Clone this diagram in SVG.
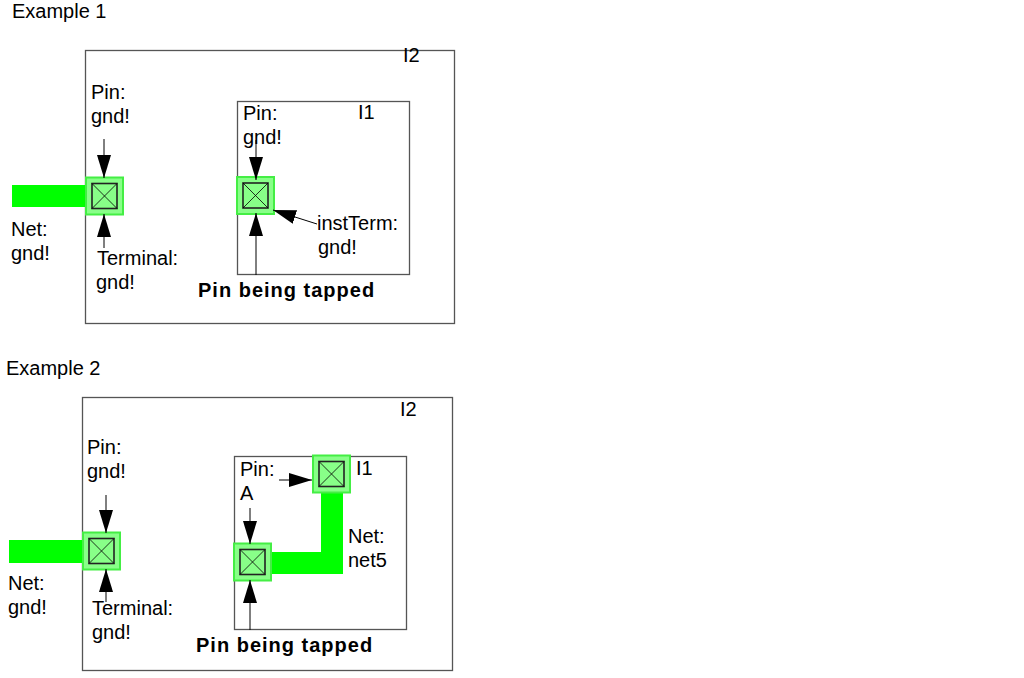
<svg xmlns="http://www.w3.org/2000/svg" width="1024" height="678" viewBox="0 0 1024 678">
<defs>
<style>
.t{font-family:"Liberation Sans",Arial,sans-serif;font-size:20px;fill:#000}
.b{font-family:"Liberation Sans",Arial,sans-serif;font-size:20px;font-weight:bold;letter-spacing:1px;fill:#000}
.box{fill:none;stroke:#555;stroke-width:1.3}
.net{fill:#00ff00}
.po{fill:#88ff88;stroke:#44ee44;stroke-width:2}
.pi{fill:#88ff88;stroke:#222;stroke-width:1.6}
.x{stroke:#000;stroke-width:0.8}
.c{stroke:#000;stroke-width:1;fill:none;marker-end:url(#ah)}
</style>
<marker id="ah" markerUnits="userSpaceOnUse" markerWidth="24" markerHeight="14" refX="23" refY="7" orient="auto">
<path d="M0,0 L23,7 L0,14 z" fill="#000"/>
</marker>
<g id="pin">
<rect class="po" x="0" y="0" width="37" height="37"/>
<rect class="pi" x="6" y="6" width="25" height="25"/>
<path class="x" d="M6,6 L31,31 M31,6 L6,31"/>
</g>
</defs>
<rect width="1024" height="678" fill="#fff"/>

<g id="example1">
<text class="t" x="12" y="18">Example 1</text>
<g id="I2a">
<rect class="box" x="85.5" y="50.5" width="369" height="273"/>
<text class="t" x="403" y="62">I2</text>
</g>
<g id="netgnd1">
<rect class="net" x="12" y="185" width="75" height="22"/>
<text class="t" x="11" y="236">Net:</text>
<text class="t" x="11" y="260">gnd!</text>
</g>
<g id="pingnd1">
<use href="#pin" x="86" y="177.5"/>
<text class="t" x="91" y="99">Pin:</text>
<text class="t" x="91" y="123">gnd!</text>
</g>
<g id="term1">
<text class="t" x="97" y="265">Terminal:</text>
<text class="t" x="96" y="289">gnd!</text>
</g>
<g id="I1a">
<rect class="box" x="237.5" y="101.5" width="172" height="173"/>
<text class="t" x="358" y="119">I1</text>
</g>
<g id="pinI1a">
<use href="#pin" x="237" y="177"/>
<text class="t" x="243" y="120">Pin:</text>
<text class="t" x="243" y="144">gnd!</text>
</g>
<g id="instterm">
<text class="t" x="317" y="230">instTerm:</text>
<text class="t" x="318" y="254">gnd!</text>
</g>
<text id="tap1" class="b" x="198" y="297">Pin being tapped</text>
</g>

<g id="example2">
<text class="t" x="6" y="375">Example 2</text>
<g id="I2b">
<rect class="box" x="82.5" y="397.5" width="370" height="273"/>
<text class="t" x="400" y="416">I2</text>
</g>
<g id="netgnd2">
<rect class="net" x="9" y="540" width="75" height="23"/>
<text class="t" x="8" y="590">Net:</text>
<text class="t" x="8" y="614">gnd!</text>
</g>
<g id="pingnd2">
<use href="#pin" x="83" y="532.5"/>
<text class="t" x="87" y="454">Pin:</text>
<text class="t" x="87" y="478">gnd!</text>
</g>
<g id="term2">
<text class="t" x="92" y="615">Terminal:</text>
<text class="t" x="92" y="639">gnd!</text>
</g>
<g id="I1b">
<rect class="box" x="234.5" y="456.5" width="172" height="173"/>
<text class="t" x="356" y="475">I1</text>
</g>
<g id="net5">
<rect class="net" x="271" y="552" width="72" height="22"/>
<rect class="net" x="321" y="492" width="22" height="82"/>
<text class="t" x="348" y="543">Net:</text>
<text class="t" x="348" y="567">net5</text>
</g>
<g id="pinA">
<use href="#pin" x="313" y="455.5"/>
<use href="#pin" x="234" y="543.5"/>
<text class="t" x="240" y="476">Pin:</text>
<text class="t" x="240" y="500">A</text>
</g>
<text id="tap2" class="b" x="196" y="652">Pin being tapped</text>
</g>

<g id="connectors">
<path class="c" d="M104,139 L104,178"/>
<path class="c" d="M104,248 L104,214"/>
<path class="c" d="M256,140 L256,180"/>
<path class="c" d="M256,275 L256,213"/>
<path class="c" d="M317,224 L273,210"/>
<path class="c" d="M106,495 L106,533"/>
<path class="c" d="M106,602 L106,569"/>
<path class="c" d="M279,480 L312,480"/>
<path class="c" d="M250,508 L250,544"/>
<path class="c" d="M250,630 L250,580"/>
</g>
</svg>
